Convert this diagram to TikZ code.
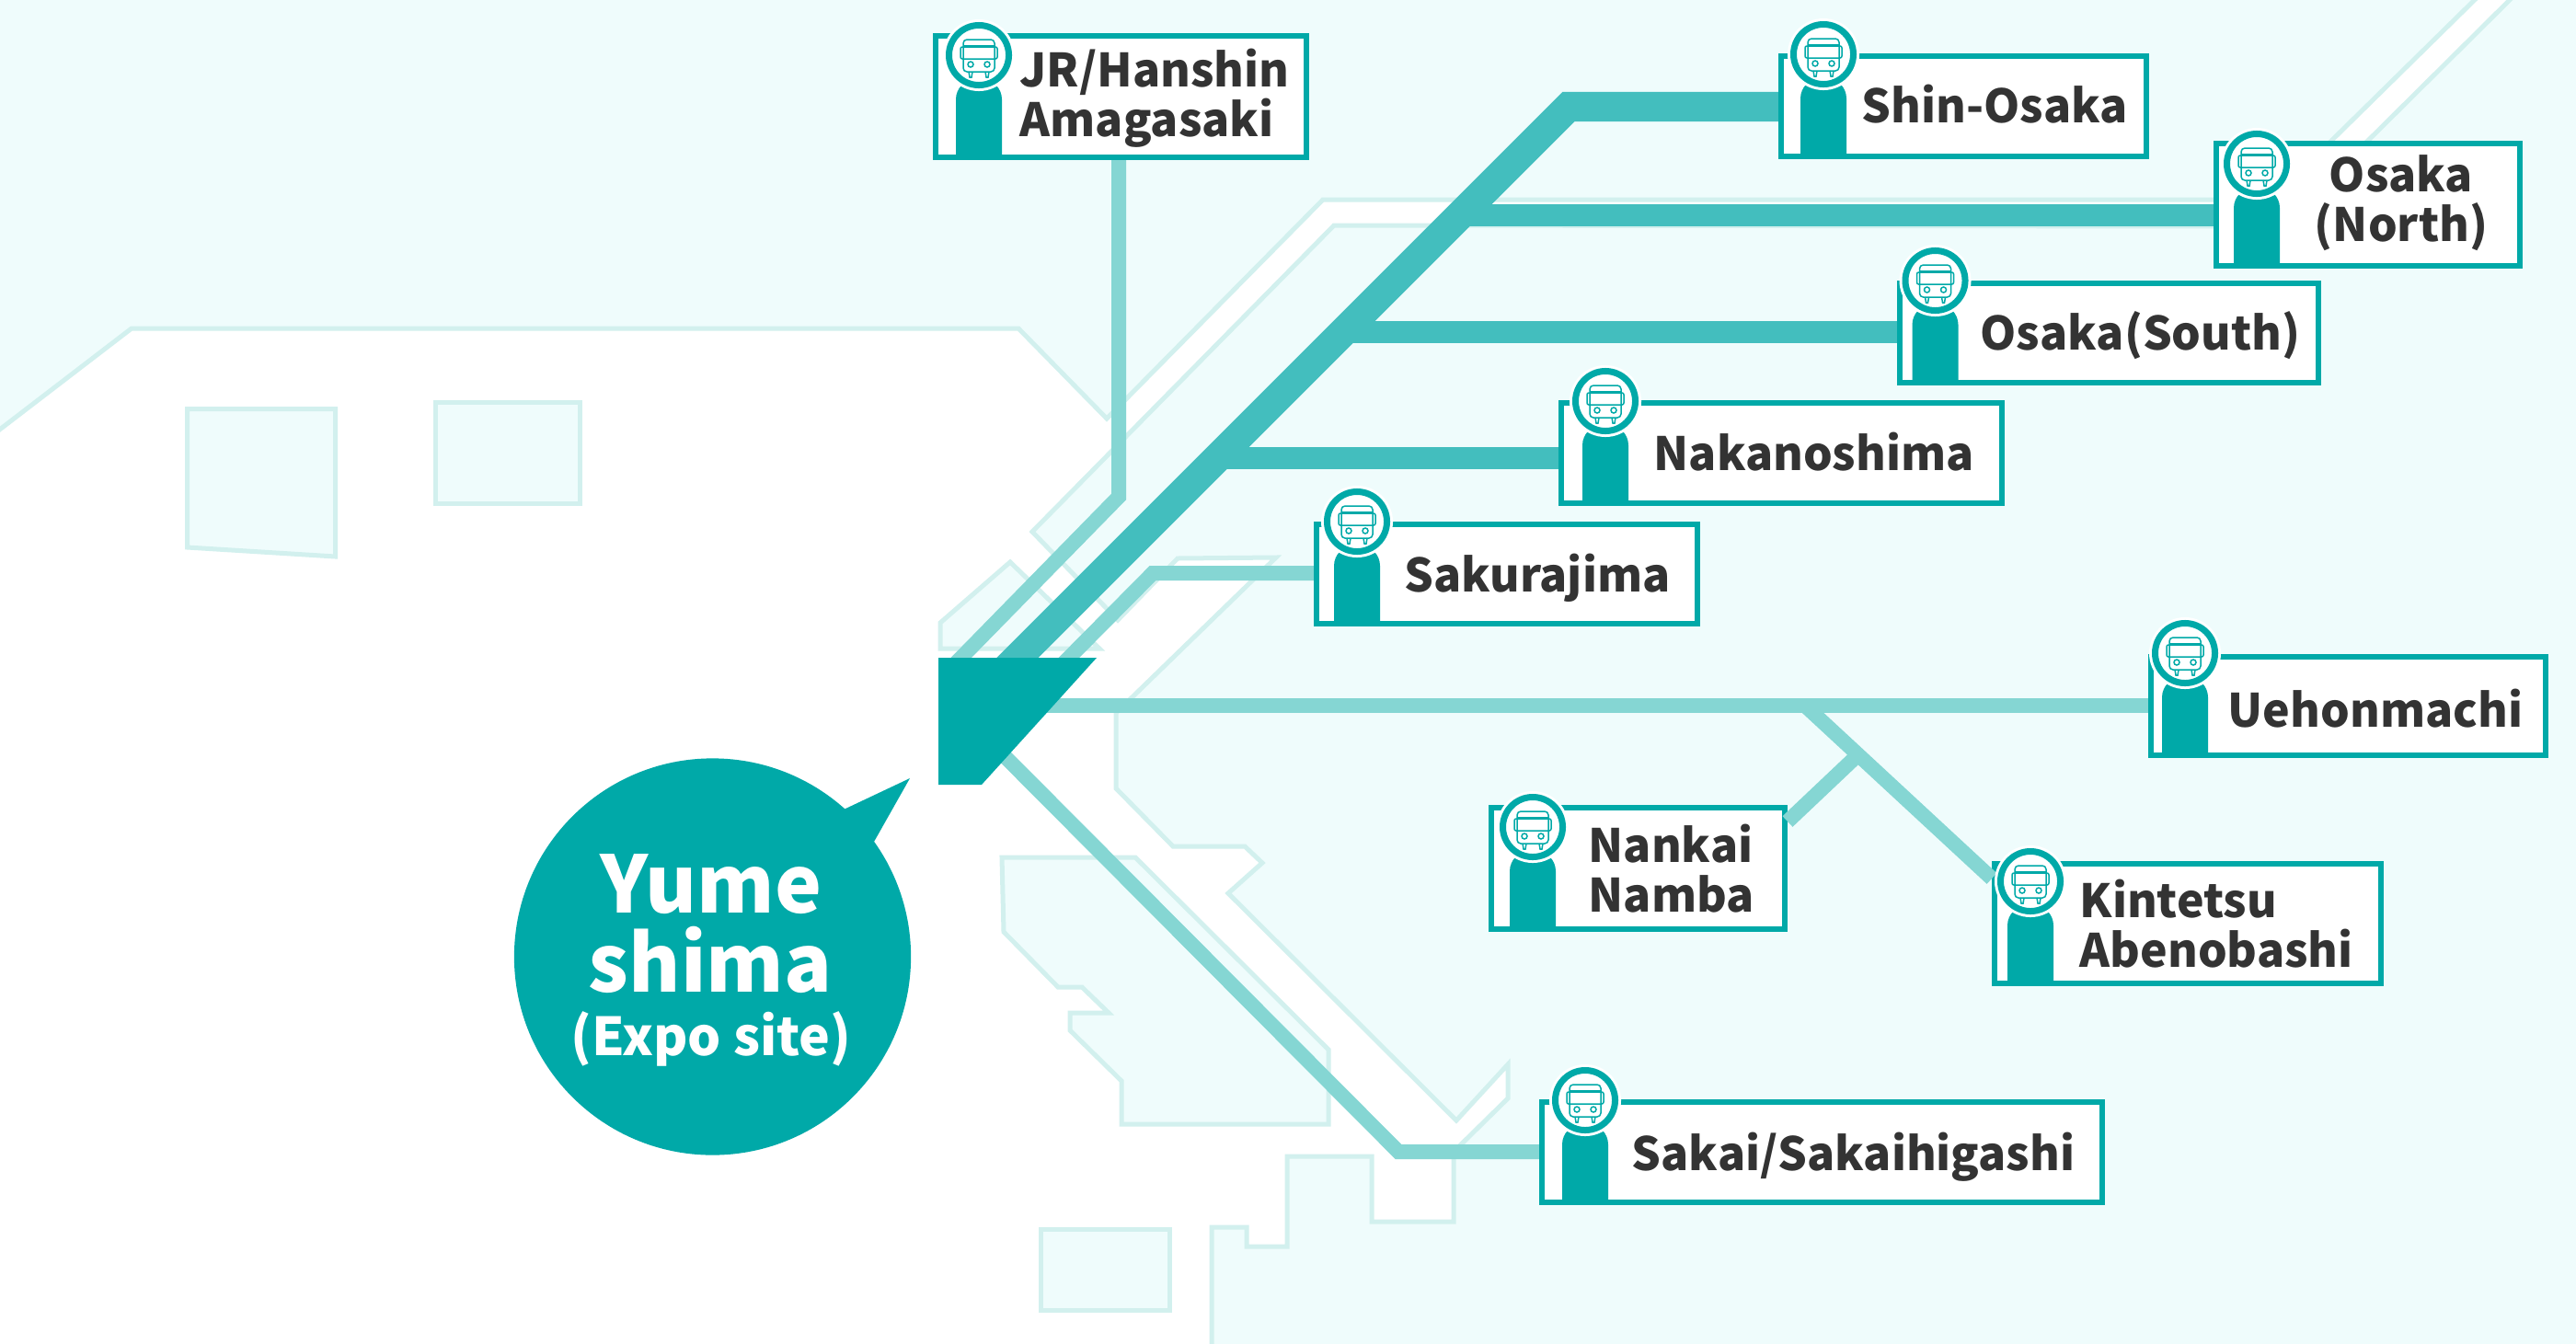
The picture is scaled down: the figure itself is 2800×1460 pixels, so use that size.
\documentclass[tikz,border=0pt]{standalone}
\usepackage{fontspec}
\setmainfont{Noto Sans CJK JP}
\definecolor{stopteal}{HTML}{00A9A8}
\definecolor{roadthick}{HTML}{43BEBE}
\definecolor{roadthin}{HTML}{85D6D3}
\definecolor{seafill}{HTML}{EFFCFC}
\definecolor{shoreline}{HTML}{D2F0EE}
\definecolor{labelgrey}{HTML}{333333}
\tikzset{
	landpatch/.style={fill=seafill, draw=shoreline, line width=.05cm},
	thickroad/.style={draw=roadthick, line width=.32cm},
	midroad/.style={draw=roadthick, line width=.24cm},
	thinroad/.style={draw=roadthin, line width=.16cm},
	stationbox/.style={draw=stopteal, fill=white, line width=.06cm, inner sep=0pt},
	stationtext/.style={text=labelgrey, inner sep=0pt, font=\fontsize{14.2}{15.4}\selectfont\bfseries},
	bubbletext/.style={text=white, inner sep=0pt, anchor=base, font=\fontsize{24.4}{26}\selectfont\bfseries},
	bubblesmall/.style={text=white, inner sep=0pt, anchor=base, font=\fontsize{16.2}{18}\selectfont\bfseries},
	buspen/.style={draw=stopteal, line width=.015cm},
	buspin/.pic={
		\fill[stopteal] (-25,-3) [rounded corners=.22cm] -- (-25,-88) -- (25,-88) [sharp corners] -- (25,-3) -- cycle;
		\fill[white] (0,-114) circle (.39cm);
		\draw[stopteal, fill=white, line width=.07cm] (0,-114) circle (.325cm);
		\begin{scope}[shift={(0,-114)}]
			\draw[buspen, rounded corners=.04cm] (-17,18) rectangle (17,-17);
			\draw[buspen] (-17,-10) -- (17,-10);
			\draw[buspen, rounded corners=.02cm] (-20,-9) rectangle (20,4);
			\draw[buspen] (-9,10) circle (.03cm) (9,10) circle (.03cm);
			\draw[buspen] (-11,18) -- (-10,24) -- (-8,24) -- (-7,18) (7,18) -- (8,24) -- (10,24) -- (11,18);
		\end{scope}
	}
}
\begin{document}
\begin{tikzpicture}[x=.01cm, y=-.01cm]
\useasboundingbox (0,0) rectangle (2800,1460);

\begin{scope}
\clip (0,0) rectangle (2800,1460);
\fill[white] (0,0) rectangle (2800,1460);
% sea and land
\path[landpatch] (-20,-20) -- (-20,482) -- (143,357) -- (1107,357) -- (1203,455) -- (1438,217) -- (2469,217) -- (2710,-20) -- cycle;
\path[landpatch] (2748,-20) -- (2480,246) -- (1450,245) -- (1122,578) -- (1215,674) -- (1280,607) -- (1387,606) -- (1213,775) -- (1213,857) -- (1275,920) -- (1353,920) -- (1372,938) -- (1335,971) -- (1583,1218) -- (1639,1157) -- (1639,1194) -- (1580,1252) -- (1580,1328) -- (1491,1328) -- (1491,1257) -- (1399,1257) -- (1399,1355) -- (1355,1355) -- (1355,1334) -- (1317,1334) -- (1317,1480) -- (2820,1480) -- (2820,-20) -- cycle;
\path[landpatch] (1022,677) -- (1098,611) -- (1195,705) -- (1022,705) -- cycle;
\path[landpatch] (1089,932) -- (1234,932) -- (1444,1141) -- (1444,1222) -- (1219,1222) -- (1219,1175) -- (1163,1120) -- (1163,1101) -- (1205,1101) -- (1176,1073) -- (1150,1073) -- (1091,1013) -- cycle;
\path[landpatch] (1131,1336) rectangle (1271,1424);
\path[landpatch] (203.5,444.5) -- (364.5,444.5) -- (364.5,605) -- (203.5,595) -- cycle;
\path[landpatch] (473.5,437.5) rectangle (630.5,547.5);
\end{scope}

% station boxes
\node[stationbox, minimum width=4.03cm, minimum height=1.32cm] (jrhanshin) at (1218.5,105) {};
\node[stationbox, minimum width=3.97cm, minimum height=1.09cm] (shinosaka) at (2134.5,115.5) {};
\node[stationbox, minimum width=3.30cm, minimum height=1.33cm] (osakanorth) at (2574,222.5) {};
\node[stationbox, minimum width=4.55cm, minimum height=1.08cm] (osakasouth) at (2292.5,362) {};
\node[stationbox, minimum width=4.79cm, minimum height=1.09cm] (nakanoshima) at (1936.5,492.5) {};
\node[stationbox, minimum width=4.14cm, minimum height=1.08cm] (sakurajima) at (1638,624) {};
\node[stationbox, minimum width=4.29cm, minimum height=1.07cm] (uehonmachi) at (2552.5,767.5) {};
\node[stationbox, minimum width=3.19cm, minimum height=1.32cm] (nankai) at (1780.5,944) {};
\node[stationbox, minimum width=4.20cm, minimum height=1.30cm] (kintetsu) at (2378,1004) {};
\node[stationbox, minimum width=6.09cm, minimum height=1.09cm] (sakai) at (1980.5,1252.5) {};

% bends and joins
\coordinate (jrbend) at (1216,540);
\coordinate (jrhub) at (1030,730);
\coordinate (mainhub) at (1090,731);
\coordinate (shinbend) at (1705,116);
\coordinate (northjoin) at (1587,234);
\coordinate (southjoin) at (1460,361);
\coordinate (nakajoin) at (1323,498);
\coordinate (sakurabend) at (1253,623);
\coordinate (sakurahub) at (1147,730);
\coordinate (uehub) at (1120,767);
\coordinate (uejoin) at (1962,767);
\coordinate (nambajoin) at (2018,822);
\coordinate (kintetsuend) at (2165,955);
\coordinate (nambaend) at (1943,893);
\coordinate (sakaihub) at (1070,800);
\coordinate (sakaibend) at (1520,1252);

% routes
\draw[thinroad] (jrhanshin.south -| jrbend) -- (jrbend) -- (jrhub);
\draw[thinroad] (sakurajima.west |- sakurabend) -- (sakurabend) -- (sakurahub);
\draw[thinroad] (uehub) -- (uehonmachi.west |- uehub);
\draw[thinroad] (uejoin) -- (kintetsuend);
\draw[thinroad] (nambaend) -- (nambajoin);
\draw[thinroad] (sakaihub) -- (sakaibend) -- (sakai.west |- sakaibend);
\draw[midroad] (northjoin) -- (osakanorth.west |- northjoin);
\draw[midroad] (southjoin) -- (osakasouth.west |- southjoin);
\draw[midroad] (nakajoin) -- (nakanoshima.west |- nakajoin);
\draw[thickroad] (mainhub) -- (shinbend) -- (shinosaka.west |- shinbend);

% terminal and bubble
\fill[stopteal] (1020,715) -- (1192,715) -- (1067,853) -- (1020,853) -- cycle;
\node[circle, fill=stopteal, minimum size=4.31cm, inner sep=0pt] (yumeshima) at (774.5,1040) {};
\coordinate (bubbletip) at (989,846);
\fill[stopteal] (917,880) -- (bubbletip) -- (950,915) -- cycle;
\node[bubbletext] (yumeline) at (773,992) {Yume};
\node[bubbletext] (shimaline) at (772,1078) {shima};
\node[bubblesmall] (expoline) at (773,1147) {(Expo site)};

% pins and labels
\pic at (1064,174) {buspin};
\pic at (1982,173) {buspin};
\pic at (2453,292) {buspin};
\pic at (2103.5,419) {buspin};
\pic at (1745,550) {buspin};
\pic at (1475,681) {buspin};
\pic at (2375,824) {buspin};
\pic at (1666,1013) {buspin};
\pic at (2207,1072) {buspin};
\pic at (1723,1310) {buspin};

\node[stationtext, anchor=west, align=left] (jrhanshinlabel) at (1108,107) {JR/Hanshin\\Amagasaki};
\node[stationtext, anchor=base west] (shinosakalabel) at (2023,133) {Shin-Osaka};
\node[stationtext, align=center] (osakanorthlabel) at (2610,221) {Osaka\\(North)};
\node[stationtext, anchor=base west] (osakasouthlabel) at (2152,380) {Osaka(South)};
\node[stationtext, anchor=base west] (nakanoshimalabel) at (1797,511) {Nakanoshima};
\node[stationtext, anchor=base west] (sakurajimalabel) at (1526,643) {Sakurajima};
\node[stationtext, anchor=base west] (uehonmachilabel) at (2421,790) {Uehonmachi};
\node[stationtext, anchor=west, align=left] (nankailabel) at (1726,944) {Nankai\\Namba};
\node[stationtext, anchor=west, align=left] (kintetsulabel) at (2260,1004) {Kintetsu\\Abenobashi};
\node[stationtext, anchor=base west] (sakailabel) at (1773,1272) {Sakai/Sakaihigashi};
\end{tikzpicture}
\end{document}
